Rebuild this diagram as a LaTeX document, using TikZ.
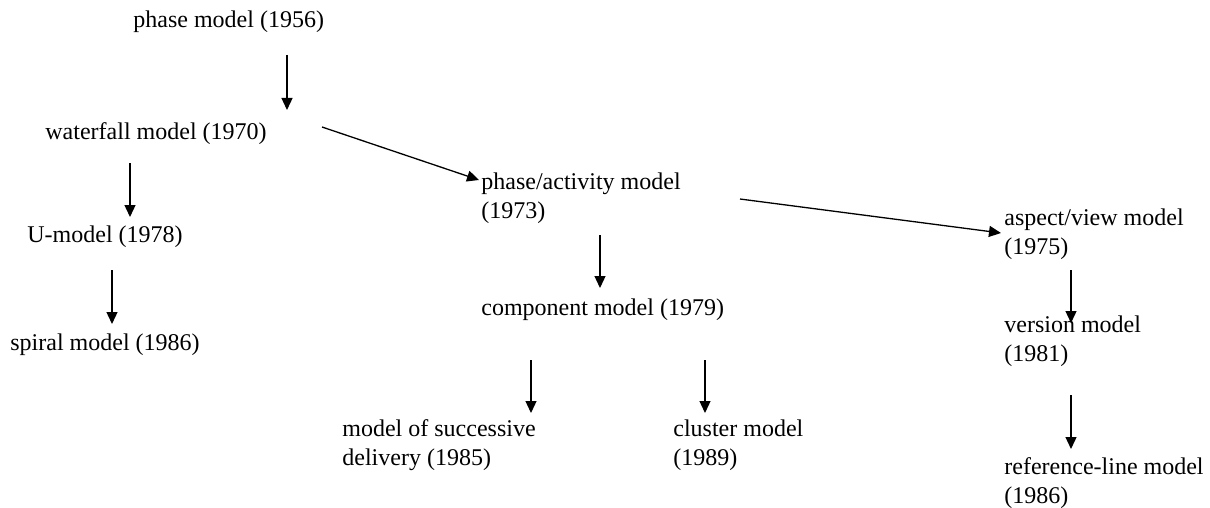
\documentclass[tikz,border=0pt]{standalone}
\usepackage{fontspec}
\setmainfont{Liberation Serif}
\usepackage{tikz}
\usetikzlibrary{arrows.meta}

\tikzset{
  model/.style={anchor=base west, inner sep=0pt, align=left, font=\fontsize{12}{14.5}\selectfont},
  flow/.style={-{Triangle[length=6pt,width=5.5pt]}, black, line width=0.65pt}
}

\begin{document}
\begin{tikzpicture}[x=0.5pt, y=-0.5pt]
  \useasboundingbox (0,0) rectangle (1210,508);

  % models (base = last line)
  \node[model] (phase)      at (133,28)  {phase model (1956)};
  \node[model] (waterfall)  at (45,140)  {waterfall model (1970)};
  \node[model] (umodel)     at (27,242)  {U-model (1978)};
  \node[model] (spiral)     at (10,350)  {spiral model (1986)};
  \node[model] (phaseact)   at (481,218) {phase/activity model\\(1973)};
  \node[model] (component)  at (481,315) {component model (1979)};
  \node[model] (successive) at (342,465) {model of successive\\delivery (1985)};
  \node[model] (cluster)    at (673,465) {cluster model\\(1989)};
  \node[model] (aspect)     at (1004,254) {aspect/view model\\(1975)};
  \node[model] (version)    at (1004,361) {version model\\(1981)};
  \node[model] (refline)    at (1004,503) {reference-line model\\(1986)};

  % arrow ends
  \coordinate (phase-out)      at (287,55);
  \coordinate (waterfall-in)   at (287,110);
  \coordinate (waterfall-out)  at (130,163);
  \coordinate (umodel-in)      at (130,217);
  \coordinate (waterfall-side) at (322,127);
  \coordinate (phaseact-in)    at (479,180);
  \coordinate (umodel-out)     at (112,270);
  \coordinate (spiral-in)      at (112,324);
  \coordinate (phaseact-out)   at (600,235);
  \coordinate (component-in)   at (600,288);
  \coordinate (phaseact-side)  at (740,199);
  \coordinate (aspect-in)      at (1001,233);
  \coordinate (component-l)    at (531,360);
  \coordinate (successive-in)  at (531,413);
  \coordinate (component-r)    at (705,360);
  \coordinate (cluster-in)     at (705,413);
  \coordinate (aspect-out)     at (1071,270);
  \coordinate (version-in)     at (1071,323);
  \coordinate (version-out)    at (1071,395);
  \coordinate (refline-in)     at (1071,449);

  \foreach \a/\b in {phase-out/waterfall-in, waterfall-out/umodel-in,
      waterfall-side/phaseact-in, umodel-out/spiral-in,
      phaseact-out/component-in, phaseact-side/aspect-in,
      component-l/successive-in, component-r/cluster-in,
      aspect-out/version-in, version-out/refline-in} {
    \draw[flow] (\a) -- (\b);
  }
\end{tikzpicture}
\end{document}
